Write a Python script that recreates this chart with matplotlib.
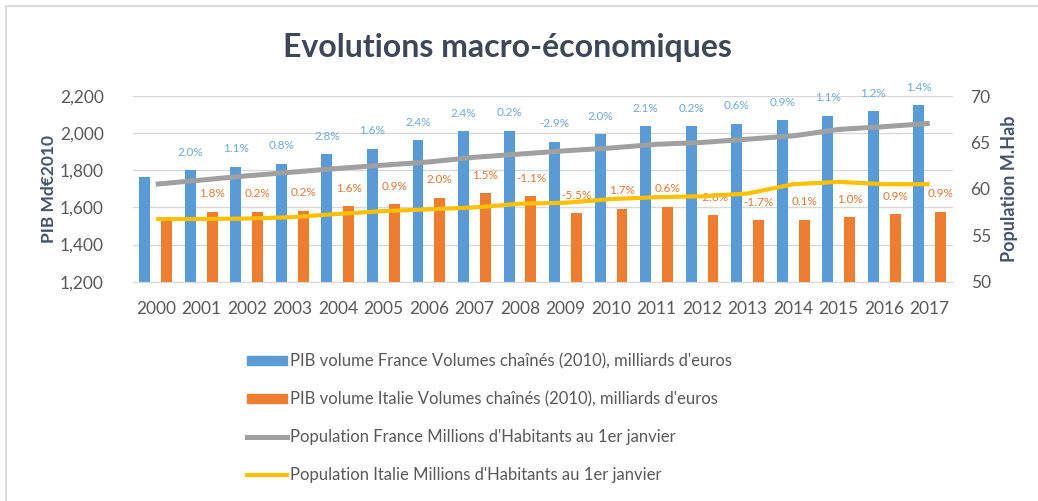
import numpy as np
import matplotlib.pyplot as plt
from matplotlib.patches import Rectangle
from matplotlib.lines import Line2D

plt.rcParams['font.family'] = ['Lato', 'DejaVu Sans']

# ------------------------------------------------------
# Data
# ------------------------------------------------------
years = [str(y) for y in range(2000, 2018)]

pib_france = [1765, 1800, 1820, 1835, 1887, 1916, 1962, 2010, 2012, 1954,
              1995, 2036, 2038, 2050, 2070, 2093, 2118, 2150]
pib_italie = [1548, 1576, 1578, 1581, 1605, 1618, 1653, 1677, 1659, 1568,
              1592, 1604, 1558, 1530, 1532, 1548, 1564, 1578]

pop_france = [60.5, 60.95, 61.4, 61.8, 62.2, 62.55, 62.9, 63.4, 63.75, 64.1,
              64.4, 64.8, 65.0, 65.35, 65.7, 66.4, 66.7, 67.05]
pop_italie = [56.75, 56.75, 56.8, 56.95, 57.3, 57.6, 57.8, 58.0, 58.4, 58.5,
              58.9, 59.1, 59.2, 59.5, 60.5, 60.75, 60.5, 60.5]

lbl_france = ["", "2.0%", "1.1%", "0.8%", "2.8%", "1.6%", "2.4%", "2.4%", "0.2%",
              "-2.9%", "2.0%", "2.1%", "0.2%", "0.6%", "0.9%", "1.1%", "1.2%", "1.4%"]
lbl_italie = ["", "1.8%", "0.2%", "0.2%", "1.6%", "0.9%", "2.0%", "1.5%", "-1.1%",
              "-5.5%", "1.7%", "0.6%", "-2.8%", "-1.7%", "0.1%", "1.0%", "0.9%", "0.9%"]

legend_labels = [
    "PIB volume France Volumes chaînés (2010), milliards d'euros",
    "PIB volume Italie Volumes chaînés (2010), milliards d'euros",
    "Population France Millions d'Habitants au 1er janvier",
    "Population Italie Millions d'Habitants au 1er janvier",
]

BLUE = '#5B9BD5'
ORANGE = '#ED7D31'
GRAY = '#A0A0A0'
YELLOW = '#FFC000'
TXT = '#595959'
DARK = '#44546A'

fig = plt.figure(figsize=(10.38, 5.01), dpi=100)
ax = fig.add_axes([133 / 1038, 1 - 281.7 / 501, (952.5 - 133) / 1038, (281.7 - 96) / 501])
ax2 = ax.twinx()

x = np.arange(len(years))
w = 0.24
ax.bar(x - w, pib_france, width=w, color=BLUE, zorder=2)
ax.bar(x + w, pib_italie, width=w, color=ORANGE, zorder=2)

# growth rates written above the bars
for xi, v, t in zip(x, pib_france, lbl_france):
    if t:
        ax.annotate(t, (xi - w, v), xytext=(0, 13), textcoords='offset points',
                    ha='center', va='center', fontsize=8.5, color='#6FA8DC')
for xi, v, t in zip(x, pib_italie, lbl_italie):
    if t:
        ax.annotate(t, (xi + w, v), xytext=(0, 13), textcoords='offset points',
                    ha='center', va='center', fontsize=8.5, color='#E07B39')

ax2.plot(x, pop_france, color=GRAY, lw=3.6, solid_capstyle='butt')
ax2.plot(x, pop_italie, color=YELLOW, lw=3.0, solid_capstyle='butt')

ax.set_xlim(-0.5, len(years) - 0.5)
ax.set_ylim(1200, 2200)
ax.set_yticks(range(1200, 2201, 200))
ax.set_yticklabels([f"{v:,}" for v in range(1200, 2201, 200)])
ax2.set_ylim(50, 70)
ax2.set_yticks(range(50, 71, 5))
ax.set_xticks(x)
ax.set_xticklabels(years)

ax.grid(axis='y', color='#D9D9D9', lw=1, zorder=0)
ax.set_axisbelow(True)
for a in (ax, ax2):
    for s in a.spines.values():
        s.set_visible(False)
    a.tick_params(length=0, labelsize=12.5, labelcolor=TXT)
ax.spines['bottom'].set_visible(True)
ax.spines['bottom'].set_color('#D9D9D9')
ax.tick_params(axis='y', pad=21)
ax.tick_params(axis='x', pad=14)
ax2.tick_params(axis='y', pad=13)

ax.set_ylabel("PIB Md€2010", fontsize=12.5, fontweight='bold', color=DARK, labelpad=2)
ax2.set_ylabel("Population M.Hab", fontsize=13, fontweight='bold', color=DARK, labelpad=7)

fig.text(507 / 1038, 1 - 47 / 501, "Evolutions macro-économiques", ha='center', va='center',
         fontsize=23, fontweight='bold', color='#3E4756')

handles = [
    Rectangle((0, 0), 1, 1, color=BLUE),
    Rectangle((0, 0), 1, 1, color=ORANGE),
    Line2D([], [], color=GRAY, lw=3.6),
    Line2D([], [], color=YELLOW, lw=3.0),
]
leg = fig.legend(handles, legend_labels, loc='upper left',
                 bbox_to_anchor=(240 / 1038, 1 - 347 / 501), frameon=False,
                 fontsize=12, handlelength=2.4, handleheight=0.45,
                 handletextpad=0.2, labelspacing=1.3, borderaxespad=0)
for t in leg.get_texts():
    t.set_color(TXT)

# light frame around the chart
fig.patches.append(Rectangle((6 / 1038, -0.02), 1.1, 1 - 6 / 501 + 0.02,
                             transform=fig.transFigure, fill=False,
                             edgecolor='#DCDCDC', lw=1.5))

fig.savefig("out.png", dpi=100)
